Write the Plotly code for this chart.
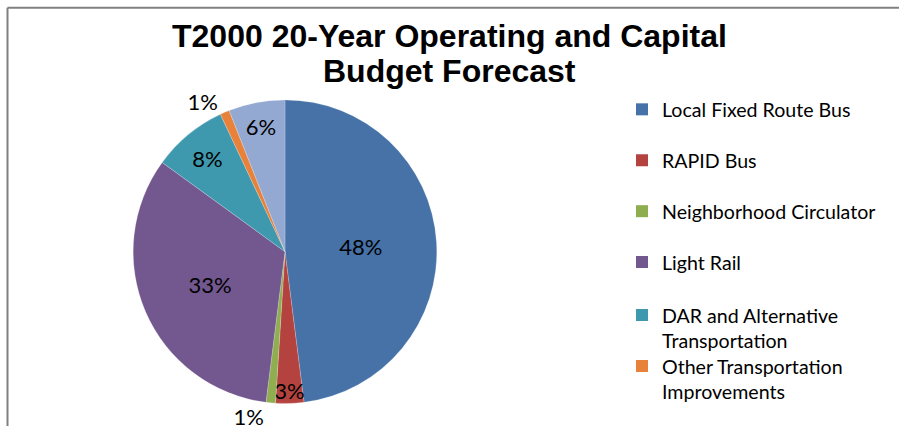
import plotly.graph_objects as go

# ---- data ----
categories = ["Local Fixed Route Bus", "RAPID Bus", "Neighborhood Circulator",
              "Light Rail", "DAR and Alternative<br>Transportation",
              "Other Transportation<br>Improvements", "Other"]
values = [48, 3, 1, 33, 8, 1, 6]
colors = ["#4672A8", "#B4433F", "#8FAE4F", "#73578F", "#3E99AE", "#E8823A", "#94A9D2"]
legend_count = 6  # only six entries shown in the legend
text_pos = ["inside", "inside", "outside", "inside", "inside", "outside", "inside"]

W, H = 899, 435

fig = go.Figure()

fig.add_trace(go.Pie(
    labels=categories, values=values, sort=False, direction="clockwise", rotation=0,
    marker=dict(colors=colors, line=dict(color="rgba(255,255,255,0.4)", width=0.5)),
    texttemplate="%{percent:.0%}", textposition=text_pos,
    insidetextorientation="horizontal",
    textfont=dict(family="Lato", size=22, color="#000000"),
    showlegend=False, hoverinfo="label+percent",
    domain=dict(x=[(285 - 155) / W, (285 + 155) / W], y=[1 - 412 / H, 1 - 102 / H]),
))

legend_tops = [92, 144, 196, 248, 302, 354]
for i in range(legend_count):
    key = "legend" if i == 0 else f"legend{i+1}"
    fig.add_trace(go.Scatter(
        x=[None], y=[None], mode="markers", name=categories[i],
        marker=dict(symbol="square", size=11, color=colors[i]),
        legend=key, showlegend=True,
    ))

layout_legends = {}
for i in range(legend_count):
    key = "legend" if i == 0 else f"legend{i+1}"
    layout_legends[key] = dict(
        x=622 / W, xanchor="left", y=1 - legend_tops[i] / H, yanchor="top",
        font=dict(family="Lato", size=19.6, color="#000000"),
        bgcolor="rgba(0,0,0,0)", valign="top", itemsizing="constant",
    )

fig.update_layout(
    width=W, height=H,
    margin=dict(l=0, r=0, t=0, b=0),
    paper_bgcolor="white", plot_bgcolor="white",
    xaxis=dict(visible=False), yaxis=dict(visible=False),
    uniformtext=dict(minsize=22, mode="show"),
    annotations=[
        dict(text="<b>T2000 20-Year Operating and Capital</b>", x=0.5, y=1 - 37 / H,
             xref="paper", yref="paper", xanchor="center", yanchor="middle", showarrow=False,
             font=dict(family="Liberation Sans", size=32, color="#000000")),
        dict(text="<b>Budget Forecast</b>", x=0.5, y=1 - 73 / H,
             xref="paper", yref="paper", xanchor="center", yanchor="middle", showarrow=False,
             font=dict(family="Liberation Sans", size=32, color="#000000")),
    ],
    shapes=[
        dict(type="line", xref="paper", yref="paper", x0=7.5 / W, x1=1, y0=1 - 8 / H, y1=1 - 8 / H,
             line=dict(color="#808080", width=2)),
        dict(type="line", xref="paper", yref="paper", x0=7.5 / W, x1=7.5 / W, y0=0, y1=1 - 8 / H,
             line=dict(color="#808080", width=2)),
    ],
    **layout_legends,
)

fig.write_html("out.html")
